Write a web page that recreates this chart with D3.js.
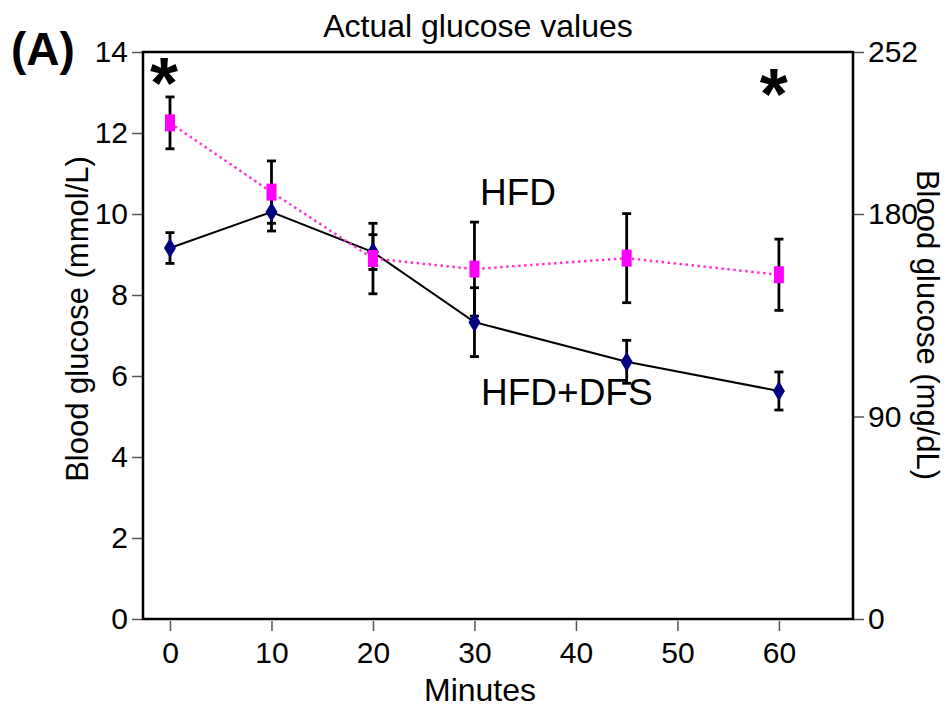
<!DOCTYPE html>
<html>
<head>
<meta charset="utf-8">
<script src="https://cdn.jsdelivr.net/npm/d3@7"></script>
<style>
  body { margin: 0; background: #fff; }
  svg { display: block; font-family: "Liberation Sans", Arial, sans-serif; }
</style>
</head>
<body>
<svg id="chart" width="947" height="707"></svg>
<script>
// data
const minutes = [0, 10, 20, 30, 45, 60];
const hfdMean = [12.25, 10.54, 8.9, 8.64, 8.91, 8.5];
const hfdErr  = [0.64, 0.77, 0.87, 1.16, 1.1, 0.88];
const dfsMean = [9.16, 10.05, 9.06, 7.33, 6.35, 5.63];
const dfsErr  = [0.38, 0.47, 0.43, 0.85, 0.53, 0.47];
const leftTicks = [0, 2, 4, 6, 8, 10, 12, 14];
const rightTicks = [0, 90, 180, 252];
const xTicks = [0, 10, 20, 30, 40, 50, 60];

const plot = { left: 143, right: 853, top: 52, bottom: 619 };
const svg = d3.select("#chart");

const x = d3.scaleLinear().domain([-2.66, 67.3]).range([plot.left, plot.right]);
const y = d3.scaleLinear().domain([0, 14]).range([plot.bottom, plot.top]);
const y2 = d3.scaleLinear().domain([0, 252]).range([plot.bottom, plot.top]);

// axes
const leftAxis = svg.append("g").attr("transform", `translate(${plot.left},0)`)
  .call(d3.axisLeft(y).tickValues(leftTicks).tickSize(11).tickPadding(4));
const rightAxis = svg.append("g").attr("transform", `translate(${plot.right},0)`)
  .call(d3.axisRight(y2).tickValues(rightTicks).tickSize(11).tickPadding(4));
const bottomAxis = svg.append("g").attr("transform", `translate(0,${plot.bottom + 2})`)
  .call(d3.axisBottom(x).tickValues(xTicks).tickSize(10).tickPadding(11));

[leftAxis, rightAxis, bottomAxis].forEach(g => {
  g.select(".domain").remove();
  g.selectAll(".tick line").attr("stroke", "#555").attr("stroke-width", 1.5);
  g.selectAll("text").attr("font-size", 30).attr("fill", "#000")
    .style("font-family", '"Liberation Sans", Arial, sans-serif');
});

// frame
svg.append("rect")
  .attr("x", plot.left).attr("y", plot.top)
  .attr("width", plot.right - plot.left).attr("height", plot.bottom - plot.top)
  .attr("fill", "none").attr("stroke", "#000").attr("stroke-width", 2.5);

// labels
svg.append("text").attr("x", 478).attr("y", 37).attr("text-anchor", "middle")
  .attr("font-size", 32).text("Actual glucose values");
svg.append("text").attr("x", 11).attr("y", 65).attr("font-size", 46)
  .attr("font-weight", "bold").text("(A)");
svg.append("text").attr("x", 480).attr("y", 701).attr("text-anchor", "middle")
  .attr("font-size", 32).text("Minutes");
svg.append("text").attr("transform", "translate(88,319) rotate(-90)")
  .attr("text-anchor", "middle").attr("font-size", 31).text("Blood glucose (mmol/L)");
svg.append("text").attr("transform", "translate(917,325) rotate(90)")
  .attr("text-anchor", "middle").attr("font-size", 31).text("Blood glucose (mg/dL)");
svg.append("text").attr("x", 480).attr("y", 205).attr("font-size", 37).text("HFD");
svg.append("text").attr("x", 481).attr("y", 405).attr("font-size", 37).text("HFD+DFS");
svg.append("text").attr("x", x(-0.6)).attr("y", 108).attr("text-anchor", "middle")
  .attr("font-size", 72).attr("font-weight", "bold").text("*");
svg.append("text").attr("x", x(59.5)).attr("y", 119).attr("text-anchor", "middle")
  .attr("font-size", 72).attr("font-weight", "bold").text("*");

const hfd = minutes.map((m, i) => ({ m, v: hfdMean[i], e: hfdErr[i] }));
const dfs = minutes.map((m, i) => ({ m, v: dfsMean[i], e: dfsErr[i] }));

const line = d3.line().x(d => x(d.m)).y(d => y(d.v));

svg.append("path").datum(dfs).attr("d", line)
  .attr("fill", "none").attr("stroke", "#000").attr("stroke-width", 2);
svg.append("path").datum(hfd).attr("d", line)
  .attr("fill", "none").attr("stroke", "#ff33cc").attr("stroke-width", 2.5)
  .attr("stroke-dasharray", "2.5,3.5");

// error bars
function errorBars(data) {
  const g = svg.append("g").attr("stroke", "#000").attr("stroke-width", 2.8);
  data.forEach(d => {
    const cx = x(d.m), top = y(d.v + d.e), bot = y(d.v - d.e);
    g.append("line").attr("x1", cx).attr("x2", cx).attr("y1", top).attr("y2", bot);
    g.append("line").attr("x1", cx - 4.5).attr("x2", cx + 4.5).attr("y1", top).attr("y2", top);
    g.append("line").attr("x1", cx - 4.5).attr("x2", cx + 4.5).attr("y1", bot).attr("y2", bot);
  });
}
errorBars(dfs);
errorBars(hfd);

// markers
svg.append("g").selectAll("path").data(dfs).join("path")
  .attr("d", d => {
    const cx = x(d.m), cy = y(d.v);
    return `M${cx},${cy - 10}L${cx + 6},${cy}L${cx},${cy + 10}L${cx - 6},${cy}Z`;
  })
  .attr("fill", "#000080");
svg.append("g").selectAll("rect").data(hfd).join("rect")
  .attr("x", d => x(d.m) - 5).attr("y", d => y(d.v) - 8.5)
  .attr("width", 10).attr("height", 17)
  .attr("fill", "#ff00ff");
</script>
</body>
</html>
